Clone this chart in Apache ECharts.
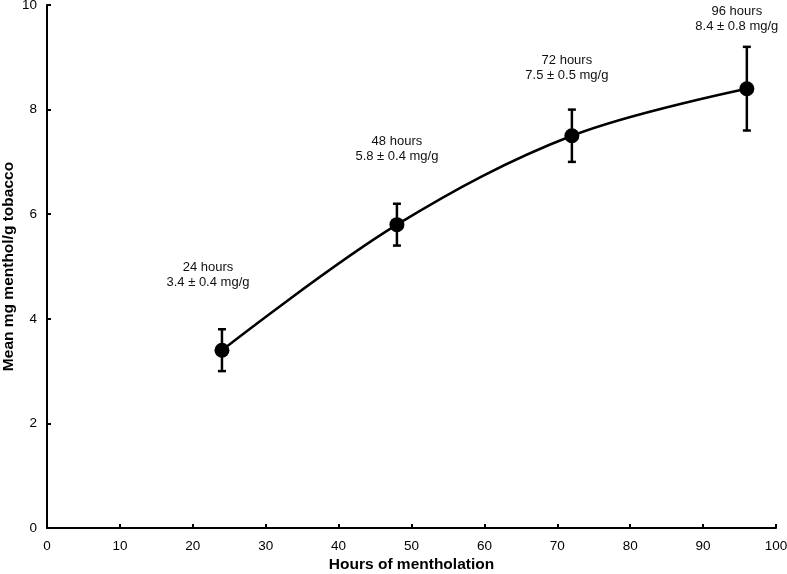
<!DOCTYPE html>
<html>
<head>
<meta charset="utf-8">
<script src="https://cdn.jsdelivr.net/npm/echarts@6/dist/echarts.min.js"></script>
<style>html,body{margin:0;padding:0;background:#fff}#c{width:787px;height:574px}</style>
</head>
<body>
<div id="c"></div>
<script>
const hours = [24, 48, 72, 96];
const meanMenthol = [3.4, 5.8, 7.5, 8.4];
const sdMenthol = [0.4, 0.4, 0.5, 0.8];
const errLow = [3.0, 5.4, 7.0, 7.6];
const errHigh = [3.8, 6.2, 8.0, 9.2];
const xTicks = [0, 10, 20, 30, 40, 50, 60, 70, 80, 90, 100];
const yTicks = [0, 2, 4, 6, 8, 10];

const labelOffsets = [[-14, -75], [0, -76], [-5, -68], [-10, -70]];
const font = 'Liberation Sans, Arial, sans-serif';

const chart = echarts.init(document.getElementById('c'), null, {renderer: 'canvas'});
chart.setOption({
  animation: false,
  backgroundColor: '#fff',
  grid: {left: 47, right: 11, top: 5, bottom: 46, containLabel: false, outerBoundsMode: 'none'},
  xAxis: {
    type: 'value', min: xTicks[0], max: xTicks[xTicks.length - 1], interval: 10,
    name: 'Hours of mentholation', nameLocation: 'middle', nameGap: 29, nameMoveOverlap: false,
    nameTextStyle: {fontFamily: font, fontSize: 15.5, fontWeight: 'bold', color: '#000'},
    axisLine: {lineStyle: {color: '#000', width: 2}},
    axisTick: {inside: true, length: 4, lineStyle: {color: '#000', width: 2}},
    axisLabel: {fontFamily: font, fontSize: 13.5, color: '#000', margin: 11},
    splitLine: {show: false}
  },
  yAxis: {
    type: 'value', min: yTicks[0], max: yTicks[yTicks.length - 1], interval: 2,
    name: 'Mean mg menthol/g tobacco', nameLocation: 'middle', nameGap: 30, nameMoveOverlap: false,
    nameTextStyle: {fontFamily: font, fontSize: 15.5, fontWeight: 'bold', color: '#000'},
    axisLine: {lineStyle: {color: '#000', width: 2}},
    axisTick: {inside: true, length: 4, lineStyle: {color: '#000', width: 2}},
    axisLabel: {fontFamily: font, fontSize: 13.5, color: '#000', margin: 10},
    splitLine: {show: false}
  },
  series: [
    {
      type: 'line', smooth: 0.35, symbol: 'none',
      data: hours.map((h, i) => [h, meanMenthol[i]]),
      lineStyle: {color: '#000', width: 2.5}, z: 2
    },
    {
      type: 'custom',
      data: hours.map((h, i) => [h, errLow[i], errHigh[i]]),
      renderItem: function (params, api) {
        const lo = api.coord([api.value(0), api.value(1)]);
        const hi = api.coord([api.value(0), api.value(2)]);
        const w = 4;
        const st = {stroke: '#000', lineWidth: 2.5};
        return {type: 'group', children: [
          {type: 'line', shape: {x1: lo[0], y1: lo[1], x2: hi[0], y2: hi[1]}, style: st},
          {type: 'line', shape: {x1: lo[0] - w, y1: lo[1], x2: lo[0] + w, y2: lo[1]}, style: st},
          {type: 'line', shape: {x1: hi[0] - w, y1: hi[1], x2: hi[0] + w, y2: hi[1]}, style: st}
        ]};
      },
      z: 3
    },
    {
      type: 'scatter', symbol: 'circle', symbolSize: 15,
      itemStyle: {color: '#000', opacity: 1},
      data: hours.map((h, i) => ({
        value: [h, meanMenthol[i]],
        label: {
          show: true, position: 'inside', offset: labelOffsets[i],
          formatter: h + ' hours\n' + meanMenthol[i].toFixed(1) + ' ± ' + sdMenthol[i].toFixed(1) + ' mg/g',
          fontFamily: font, fontSize: 13, color: '#111', lineHeight: 15, align: 'center'
        }
      })),
      z: 4
    }
  ]
});
</script>
</body>
</html>
